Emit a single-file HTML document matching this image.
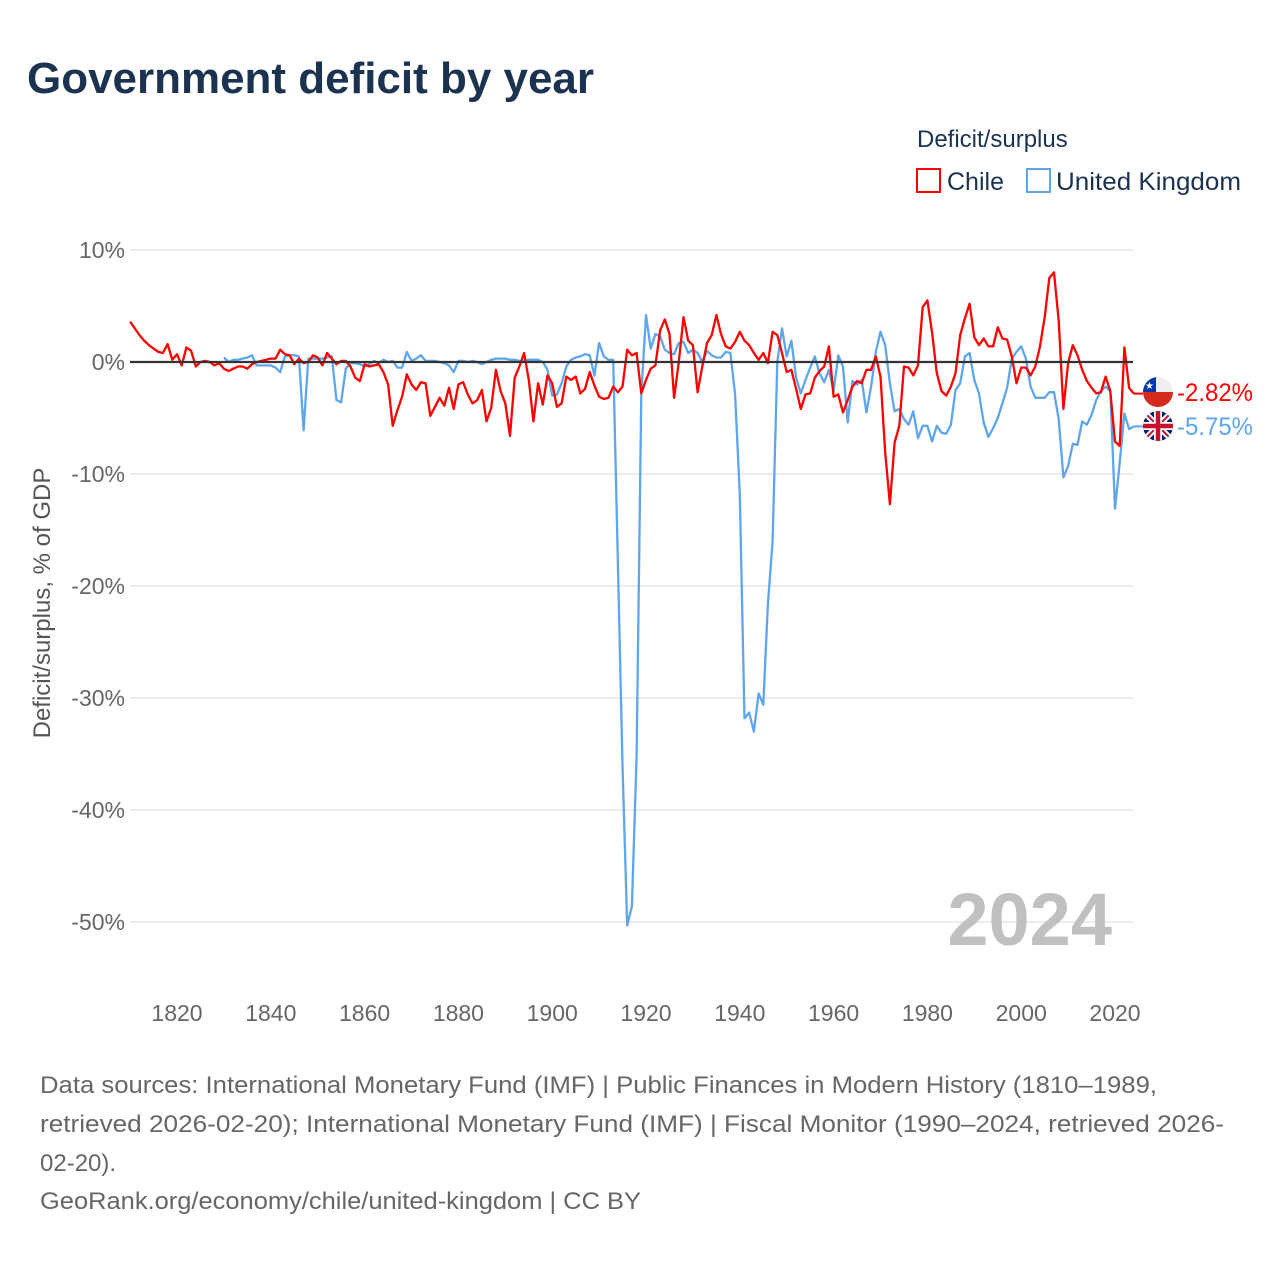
<!DOCTYPE html>
<html><head><meta charset="utf-8"><style>
body{margin:0;background:#fff;}
svg{display:block;font-family:"Liberation Sans",sans-serif;}
</style></head><body>
<svg id="chart" width="1280" height="1280" viewBox="0 0 1280 1280">
<rect width="1280" height="1280" fill="#fff"/>
<text x="27" y="93" font-size="44" font-weight="bold" fill="#1b3350" textLength="567" lengthAdjust="spacingAndGlyphs">Government deficit by year</text>
<text x="917" y="147" font-size="24" fill="#1b3350">Deficit/surplus</text>
<g><rect x="917" y="169" width="23" height="23" fill="none" stroke="#ff0000" stroke-width="2"/><text x="947" y="190" font-size="25" fill="#1b3350">Chile</text></g>
<g><rect x="1027" y="169" width="23" height="23" fill="none" stroke="#5ea6ec" stroke-width="2"/><text x="1056" y="190" font-size="25" fill="#1b3350" textLength="185" lengthAdjust="spacingAndGlyphs">United Kingdom</text></g>
<g id="grid"></g>
<g id="yticks"></g>
<g id="xticks"></g>
<text transform="translate(50,603) rotate(-90)" text-anchor="middle" font-size="24" fill="#555">Deficit/surplus, % of GDP</text>
<text x="1112" y="945" text-anchor="end" font-size="74" font-weight="bold" fill="#c0c0c0">2024</text>
<g id="series"></g>
<g id="endlabels"></g>
<g font-size="24" fill="#666">
<text x="40" y="1093" textLength="1117" lengthAdjust="spacingAndGlyphs">Data sources: International Monetary Fund (IMF) | Public Finances in Modern History (1810–1989,</text>
<text x="40" y="1132" textLength="1184" lengthAdjust="spacingAndGlyphs">retrieved 2026-02-20); International Monetary Fund (IMF) | Fiscal Monitor (1990–2024, retrieved 2026-</text>
<text x="40" y="1171">02-20).</text>
<text x="40" y="1209" textLength="601" lengthAdjust="spacingAndGlyphs">GeoRank.org/economy/chile/united-kingdom | CC BY</text>
</g>
</svg>
<script>
const yTickValues=[10,0,-10,-20,-30,-40,-50];
const xTickYears=[1820,1840,1860,1880,1900,1920,1940,1960,1980,2000,2020];
const chileStart=1810;
const chileValues=[3.6,3.0,2.4,1.9,1.5,1.2,0.9,0.8,1.6,0.2,0.7,-0.3,1.3,1.0,-0.4,0.0,0.1,0.0,-0.3,-0.1,
-0.6,-0.8,-0.6,-0.4,-0.4,-0.6,-0.2,0.0,0.1,0.2,0.3,0.3,1.1,0.7,0.6,-0.2,0.3,-0.1,0.0,0.6,
0.4,-0.3,0.8,0.3,-0.2,0.1,0.1,-0.4,-1.4,-1.7,-0.2,-0.4,-0.3,-0.2,-0.9,-2.0,-5.7,-4.3,-3.1,-1.1,
-2.0,-2.5,-1.8,-1.9,-4.8,-4.0,-3.2,-3.9,-2.3,-4.2,-2.0,-1.8,-2.9,-3.7,-3.4,-2.5,-5.3,-4.1,-0.7,-2.6,
-3.7,-6.6,-1.4,-0.4,0.8,-1.6,-5.3,-1.9,-3.8,-1.2,-1.9,-4.0,-3.7,-1.3,-1.6,-1.3,-2.8,-2.4,-0.9,-2.1,
-3.1,-3.3,-3.2,-2.2,-2.7,-2.2,1.1,0.6,0.8,-2.8,-1.6,-0.6,-0.3,2.8,3.8,2.5,-3.2,0.0,4.0,1.9,
1.5,-2.7,-0.4,1.7,2.4,4.2,2.5,1.4,1.2,1.8,2.7,1.9,1.5,0.8,0.2,0.8,-0.1,2.7,2.4,0.8,
-0.9,-0.7,-2.4,-4.2,-2.9,-2.8,-1.4,-0.8,-0.4,1.4,-3.1,-2.9,-4.5,-3.4,-2.2,-1.7,-1.9,-0.7,-0.7,0.5,
-1.3,-8.1,-12.7,-7.2,-5.7,-0.4,-0.5,-1.2,-0.3,4.9,5.5,2.6,-1.0,-2.6,-3.0,-2.2,-1.0,2.4,3.9,5.2,
2.2,1.5,2.1,1.4,1.4,3.1,2.1,2.0,0.5,-1.9,-0.5,-0.5,-1.2,-0.4,1.4,4.0,7.5,8.0,3.7,-4.2,
-0.1,1.5,0.6,-0.7,-1.7,-2.3,-2.8,-2.7,-1.3,-2.6,-7.1,-7.5,1.3,-2.3,-2.82];
const ukStart=1830;
const ukValues=[0.4,0.0,0.2,0.2,0.3,0.4,0.6,-0.3,-0.3,-0.3,
-0.3,-0.5,-0.9,0.5,0.6,0.6,0.5,-6.1,0.3,0.3,
0.3,0.3,0.4,0.5,-3.4,-3.6,-0.6,-0.1,-0.1,-0.2,
-0.4,-0.2,0.1,-0.1,0.2,0.0,0.1,-0.5,-0.5,0.9,
0.1,0.3,0.6,0.1,0.1,0.1,0.0,-0.1,-0.3,-0.9,
0.1,0.1,0.0,0.1,0.0,-0.2,0.0,0.2,0.3,0.3,
0.3,0.2,0.2,0.1,0.1,0.2,0.2,0.2,0.0,-0.7,
-3.0,-2.9,-1.9,-0.4,0.2,0.4,0.5,0.7,0.6,-1.2,
1.7,0.5,0.2,0.2,-18,-36,-50.3,-48.6,-35.2,-2.8,
4.2,1.2,2.5,2.3,1.1,0.8,0.7,1.7,1.8,0.8,
1.1,0.8,0.0,1.0,0.6,0.4,0.4,0.9,0.8,-2.9,
-11.8,-31.8,-31.3,-33.0,-29.6,-30.6,-21.6,-16.0,0.0,3.0,
0.5,1.9,-1.4,-2.8,-1.6,-0.5,0.5,-1.0,-1.8,-0.7,
-2.6,0.6,-0.4,-5.4,-1.7,-2.0,-1.6,-4.5,-2.2,0.9,
2.7,1.5,-1.9,-4.4,-4.2,-5.1,-5.6,-4.4,-6.8,-5.7,
-5.7,-7.1,-5.7,-6.3,-6.4,-5.6,-2.5,-1.9,0.5,0.8,
-1.6,-2.8,-5.4,-6.7,-5.9,-5.0,-3.7,-2.3,0.3,0.9,
1.4,0.3,-2.2,-3.2,-3.2,-3.2,-2.7,-2.7,-5.1,-10.3,
-9.3,-7.3,-7.4,-5.3,-5.6,-4.7,-3.4,-2.6,-2.2,-2.6,
-13.1,-9.0,-4.6,-6.0,-5.75];

const NS='http://www.w3.org/2000/svg';
const X0=130,X1=1133,Y10=250,Y0=362;
function xScale(yr){return 177+(yr-1820)*4.69;}
function yScale(v){return Y0-v*(Y0-Y10)/10;}
function mk(tag,attrs,parent){const e=document.createElementNS(NS,tag);for(const k in attrs)e.setAttribute(k,attrs[k]);parent.appendChild(e);return e;}

const grid=document.getElementById('grid');
const yt=document.getElementById('yticks');
yTickValues.forEach(v=>{
  if(v!==0){const l=mk('line',{x1:X0,x2:X1,y1:yScale(v),y2:yScale(v),stroke:'#e6e6e6','stroke-width':1.5},grid);
  
  }
  const t=mk('text',{x:125,y:yScale(v)+8,'text-anchor':'end','font-size':23,fill:'#666'},yt);
  t.textContent=v+'%';
  
  
});
const xt=document.getElementById('xticks');
xTickYears.forEach(yr=>{
  const t=mk('text',{x:xScale(yr),y:1021,'text-anchor':'middle','font-size':23,fill:'#666'},xt);
  t.textContent=yr;
  
  
});
const ser=document.getElementById('series');
function drawLine(start,vals,color,name){
  const pts=vals.map((v,i)=>xScale(start+i).toFixed(1)+','+yScale(v).toFixed(1)).join(' ');
  const p=mk('polyline',{points:pts,fill:'none',stroke:color,'stroke-width':2.3,'stroke-linejoin':'round'},ser);
  
  
}
drawLine(ukStart,ukValues,'#5ea6ec','line-united-kingdom');
drawLine(chileStart,chileValues,'#ff0000','line-chile');
const zl=mk('line',{x1:X0,x2:X1,y1:Y0,y2:Y0,stroke:'#333',"stroke-width":2.2},ser);



const el=document.getElementById('endlabels');
const lastC=chileValues[chileValues.length-1], lastU=ukValues[ukValues.length-1];
const lastCY=chileStart+chileValues.length-1, lastUY=ukStart+ukValues.length-1;
const lc=mk('line',{x1:xScale(lastCY),x2:1143,y1:yScale(lastC),y2:yScale(lastC),stroke:'#ff0000','stroke-width':2},el);


const lu=mk('line',{x1:xScale(lastUY),x2:1143,y1:yScale(lastU),y2:yScale(lastU),stroke:'#5ea6ec','stroke-width':2},el);


const cy1=392,cy2=426,fx=1158;
el.insertAdjacentHTML('beforeend',
`<g><clipPath id="cc"><circle cx="${fx}" cy="${cy1}" r="15"/></clipPath><g clip-path="url(#cc)"><rect x="${fx-15}" y="${cy1-15}" width="30" height="15" fill="#eee"/><rect x="${fx-15}" y="${cy1}" width="30" height="15" fill="#d52b1e"/><rect x="${fx-15}" y="${cy1-15}" width="13" height="15" fill="#0039a6"/><text x="${fx-8.5}" y="${cy1-3}" font-size="10" fill="#fff" text-anchor="middle">★</text></g></g>
<g><clipPath id="cu"><circle cx="${fx}" cy="${cy2}" r="15"/></clipPath><g clip-path="url(#cu)"><rect x="${fx-15}" y="${cy2-15}" width="30" height="30" fill="#012169"/><path d="M${fx-15} ${cy2-15}L${fx+15} ${cy2+15}M${fx+15} ${cy2-15}L${fx-15} ${cy2+15}" stroke="#fff" stroke-width="6"/><path d="M${fx-15} ${cy2-15}L${fx+15} ${cy2+15}M${fx+15} ${cy2-15}L${fx-15} ${cy2+15}" stroke="#c8102e" stroke-width="2"/><path d="M${fx} ${cy2-15}V${cy2+15}M${fx-15} ${cy2}H${fx+15}" stroke="#fff" stroke-width="8"/><path d="M${fx} ${cy2-15}V${cy2+15}M${fx-15} ${cy2}H${fx+15}" stroke="#c8102e" stroke-width="4.5"/></g></g>`);
const tc=mk('text',{x:1177,y:cy1+9,'font-size':25,fill:'#ff0000',textLength:76,lengthAdjust:'spacingAndGlyphs'},el);
tc.textContent=lastC.toFixed(2)+'%';


const tu=mk('text',{x:1177,y:cy2+9,'font-size':25,fill:'#5ea6ec',textLength:76,lengthAdjust:'spacingAndGlyphs'},el);
tu.textContent=lastU.toFixed(2)+'%';


</script>
</body></html>
